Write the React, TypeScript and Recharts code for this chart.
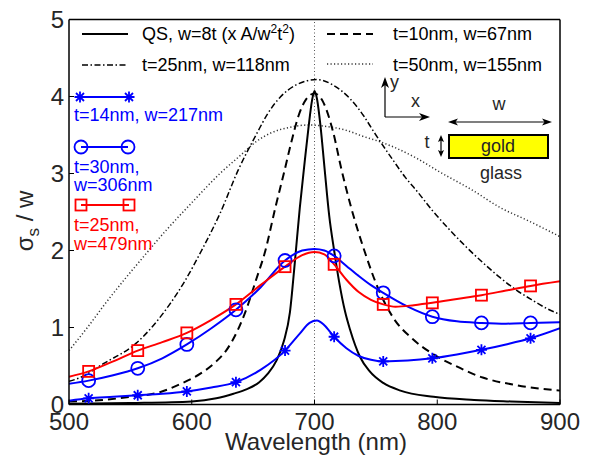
import React from 'react';
import { LineChart, Line, XAxis, YAxis, ReferenceLine } from 'recharts';

const FONT = '"Liberation Sans", Arial, Helvetica, sans-serif';
const TEXT = '#262626';
const BLUE = '#0000ff';
const RED = '#ff0000';

const xTicks = [500, 600, 700, 800, 900];
const yTicks = [0, 1, 2, 3, 4, 5];
const markerWl = [516, 556, 596, 636, 676, 716, 756, 796, 836, 876];

// QS, w=8t (x A/w^2 t^2)
const qsWl = [500, 550, 600, 620, 634, 645, 655, 662, 669, 675, 680, 684, 688, 692, 695, 698, 700, 702, 705, 708, 712, 716, 720, 725, 729, 737, 745, 756, 770, 797, 830, 860, 900];
const qsVal = [0.01, 0.02, 0.04, 0.08, 0.14, 0.2, 0.29, 0.4, 0.57, 0.82, 1.2, 1.85, 2.55, 3.15, 3.58, 3.95, 4.07, 3.97, 3.6, 3.1, 2.45, 2.0, 1.6, 1.2, 0.97, 0.62, 0.43, 0.28, 0.18, 0.1, 0.06, 0.04, 0.02];

// t=10nm, w=67nm
const t10Wl = [500, 520, 550, 574, 590, 607, 620, 628, 637, 645, 652, 660, 668, 675, 681, 687, 693, 700, 707, 715, 722, 730, 741, 752, 764, 780, 796, 815, 837, 865, 900];
const t10Val = [0.04, 0.05, 0.1, 0.16, 0.26, 0.4, 0.56, 0.7, 0.95, 1.26, 1.6, 2.0, 2.55, 3.0, 3.4, 3.75, 3.96, 4.04, 3.93, 3.55, 3.05, 2.55, 1.98, 1.5, 1.13, 0.85, 0.66, 0.5, 0.35, 0.25, 0.18];

// t=25nm, w=118nm
const t25Wl = [500, 509, 528, 555, 582, 595, 608, 623, 638, 653, 662, 672, 685, 702, 715, 729, 740, 748, 765, 774, 783, 796, 810, 824, 838, 851, 865, 878, 890, 900];
const t25Val = [0.3, 0.35, 0.53, 0.8, 1.3, 1.62, 2.0, 2.48, 3.05, 3.52, 3.78, 3.99, 4.15, 4.22, 4.15, 3.97, 3.75, 3.55, 3.15, 2.95, 2.78, 2.52, 2.27, 2.04, 1.83, 1.65, 1.48, 1.35, 1.24, 1.17];

// t=50nm, w=155nm
const t50Wl = [500, 515, 530, 545, 556, 579, 600, 623, 640, 653, 665, 680, 695, 710, 726, 740, 752, 765, 783, 802, 829, 851, 875, 900];
const t50Val = [0.7, 1.0, 1.32, 1.62, 1.83, 2.26, 2.62, 3.0, 3.24, 3.42, 3.53, 3.6, 3.63, 3.61, 3.56, 3.48, 3.42, 3.34, 3.2, 3.02, 2.78, 2.56, 2.38, 2.18];

// t=14nm, w=217nm (asterisks)
const t14Wl = [500, 516, 536, 556, 576, 596, 616, 636, 656, 676, 688, 696, 702, 708, 716, 726, 736, 746, 756, 776, 796, 816, 836, 856, 876, 900];
const t14Val = [0.05, 0.08, 0.1, 0.12, 0.14, 0.17, 0.22, 0.29, 0.45, 0.7, 0.92, 1.06, 1.09, 1.03, 0.88, 0.73, 0.63, 0.58, 0.56, 0.57, 0.6, 0.65, 0.71, 0.78, 0.86, 0.99];

// t=30nm, w=306nm (circles)
const t30Wl = [500, 516, 536, 556, 576, 596, 616, 636, 656, 676, 690, 700, 708, 716, 726, 736, 746, 756, 776, 796, 816, 836, 856, 876, 900];
const t30Val = [0.27, 0.31, 0.38, 0.47, 0.6, 0.78, 0.99, 1.23, 1.52, 1.87, 2.0, 2.02, 2.0, 1.93, 1.8, 1.67, 1.55, 1.45, 1.27, 1.14, 1.08, 1.06, 1.05, 1.06, 1.07];

// t=25nm, w=479nm (squares)
const t25wWl = [500, 516, 536, 556, 576, 596, 616, 636, 656, 676, 690, 700, 708, 716, 726, 736, 746, 756, 766, 781, 796, 816, 836, 856, 876, 900];
const t25wVal = [0.36, 0.43, 0.56, 0.7, 0.81, 0.93, 1.1, 1.3, 1.55, 1.79, 1.94, 1.98, 1.95, 1.82, 1.62, 1.46, 1.36, 1.3, 1.27, 1.29, 1.32, 1.37, 1.42, 1.48, 1.54, 1.6];

const pts = (xs: number[], ys: number[]) => xs.map((x, i) => ({ x, y: ys[i] }));

type MK = 'star' | 'circle' | 'square';

function Marker({ kind, cx, cy, color }: { kind: MK; cx: number; cy: number; color: string }) {
  if (kind === 'star') {
    const a = 5.5;
    const b = 4;
    return (
      <path
        d={`M${cx - a},${cy}H${cx + a}M${cx},${cy - a}V${cy + a}M${cx - b},${cy - b}L${cx + b},${cy + b}M${cx - b},${cy + b}L${cx + b},${cy - b}`}
        stroke={color}
        strokeWidth={1.8}
        fill="none"
      />
    );
  }
  if (kind === 'circle') return <circle cx={cx} cy={cy} r={6.5} stroke={color} strokeWidth={1.8} fill="none" />;
  return <rect x={cx - 5.5} y={cy - 5.5} width={11} height={11} stroke={color} strokeWidth={1.8} fill="none" />;
}

const makeDot = (kind: MK, color: string) => (props: any) => {
  const { cx, cy, payload, index } = props;
  if (!payload || cx == null || cy == null || !markerWl.includes(payload.x)) return <g key={`e-${kind}-${index}`} />;
  return (
    <g key={`m-${kind}-${index}`}>
      <Marker kind={kind} cx={cx} cy={cy} color={color} />
    </g>
  );
};

const axisLine = { stroke: '#000', strokeWidth: 1.5 };
const tickLine = { stroke: '#000', strokeWidth: 1 };
const tickStyle = { fontSize: 24, fill: TEXT, fontFamily: FONT };

function Overlay() {
  const t = { fontFamily: FONT, fontSize: 18 };
  return (
    <svg width={592} height={458} style={{ position: 'absolute', left: 0, top: 0, pointerEvents: 'none' }}>
      {/* axis labels */}
      <text x={316} y={450} textAnchor="middle" fontFamily={FONT} fontSize={24} fill={TEXT}>
        Wavelength (nm)
      </text>
      <text transform="translate(33,221) rotate(-90)" textAnchor="middle" fontFamily={FONT} fontSize={24} fill={TEXT}>
        σ<tspan fontSize={17} dy={6}>s</tspan>
        <tspan dy={-6}> / w</tspan>
      </text>

      {/* top legend */}
      <line x1={82} y1={34} x2={128} y2={34} stroke="#000" strokeWidth={2} />
      <text x={142} y={40} {...t} fill="#000">
        QS, w=8t (x A/w<tspan dy={-7} fontSize={12}>2</tspan>
        <tspan dy={7}>t</tspan>
        <tspan dy={-7} fontSize={12}>2</tspan>
        <tspan dy={7}>)</tspan>
      </text>
      <line x1={82} y1={65} x2={128} y2={65} stroke="#000" strokeWidth={1.5} strokeDasharray="6 2.5 1.5 2.5" />
      <text x={142} y={71} {...t} fill="#000">t=25nm, w=118nm</text>
      <line x1={327} y1={34} x2={373} y2={34} stroke="#000" strokeWidth={2} strokeDasharray="8 5" />
      <text x={393} y={40} {...t} fill="#000">t=10nm, w=67nm</text>
      <line x1={327} y1={64} x2={373} y2={64} stroke="#333" strokeWidth={1.5} strokeDasharray="1.2 2.3" />
      <text x={393} y={71} {...t} fill="#000">t=50nm, w=155nm</text>

      {/* left legend */}
      <line x1={80} y1={97} x2={129} y2={97} stroke={BLUE} strokeWidth={2} />
      <Marker kind="star" cx={80} cy={97} color={BLUE} />
      <Marker kind="star" cx={129} cy={97} color={BLUE} />
      <text x={74} y={121} {...t} fill={BLUE}>t=14nm, w=217nm</text>

      <line x1={81} y1={147} x2={128} y2={147} stroke={BLUE} strokeWidth={2} />
      <Marker kind="circle" cx={81} cy={147} color={BLUE} />
      <Marker kind="circle" cx={128} cy={147} color={BLUE} />
      <text x={74} y={173} {...t} fill={BLUE}>t=30nm,</text>
      <text x={74} y={191} {...t} fill={BLUE}>w=306nm</text>

      <line x1={81} y1={205} x2={129} y2={205} stroke={RED} strokeWidth={2} />
      <Marker kind="square" cx={81} cy={205} color={RED} />
      <Marker kind="square" cx={129} cy={205} color={RED} />
      <text x={74} y={231} {...t} fill={RED}>t=25nm,</text>
      <text x={74} y={250} {...t} fill={RED}>w=479nm</text>

      {/* inset diagram */}
      <line x1={385} y1={117} x2={385} y2={82} stroke="#000" strokeWidth={1.2} />
      <path d="M385,77 L381,88 L385,85 L389,88 Z" fill="#000" />
      <line x1={385} y1={117} x2={425} y2={117} stroke="#000" strokeWidth={1.2} />
      <path d="M430,117 L419,113 L422,117 L419,121 Z" fill="#000" />
      <text x={390} y={88} {...t} fill={TEXT}>y</text>
      <text x={411} y={107} {...t} fill={TEXT}>x</text>

      <line x1={452} y1={122} x2={548} y2={122} stroke="#000" strokeWidth={1.2} />
      <path d="M448,122 L458,118.5 L455.5,122 L458,125.5 Z" fill="#000" />
      <path d="M552,122 L542,118.5 L544.5,122 L542,125.5 Z" fill="#000" />
      <text x={499} y={110} textAnchor="middle" {...t} fill={TEXT}>w</text>

      <line x1={441} y1={139} x2={441} y2={153} stroke="#000" strokeWidth={1.2} />
      <path d="M441,135 L438,142 L441,140.5 L444,142 Z" fill="#000" />
      <path d="M441,157 L438,150 L441,151.5 L444,150 Z" fill="#000" />
      <text x={427} y={148} textAnchor="middle" {...t} fill={TEXT}>t</text>

      <rect x={449} y={135} width={99} height={23} fill="#ffff00" stroke="#000" strokeWidth={2} />
      <text x={498} y={152} textAnchor="middle" {...t} fill={TEXT}>gold</text>
      <text x={501} y={179} textAnchor="middle" {...t} fill={TEXT}>glass</text>
    </svg>
  );
}

export default function App() {
  return (
    <div style={{ position: 'absolute', left: 0, top: 0, width: 592, height: 458, background: '#fff' }}>
      <LineChart width={592} height={458} margin={{ top: 18.5, right: 31, bottom: 23.5, left: 29 }}>
        <XAxis
          xAxisId="b"
          type="number"
          dataKey="x"
          domain={[500, 900]}
          ticks={xTicks}
          interval={0}
          orientation="bottom"
          height={30}
          tickSize={-5}
          tickMargin={13.5}
          axisLine={axisLine}
          tickLine={tickLine}
          tick={tickStyle}
          allowDataOverflow
        />
        <XAxis
          xAxisId="t"
          type="number"
          dataKey="x"
          domain={[500, 900]}
          ticks={xTicks}
          interval={0}
          orientation="top"
          height={1}
          tickSize={-5}
          axisLine={axisLine}
          tickLine={tickLine}
          tick={false}
          allowDataOverflow
        />
        <YAxis
          yAxisId="l"
          type="number"
          domain={[0, 5]}
          ticks={yTicks}
          interval={0}
          orientation="left"
          width={40}
          tickSize={-5}
          tickMargin={10}
          axisLine={axisLine}
          tickLine={tickLine}
          tick={tickStyle}
          allowDataOverflow
        />
        <YAxis
          yAxisId="r"
          type="number"
          domain={[0, 5]}
          ticks={yTicks}
          interval={0}
          orientation="right"
          width={1}
          tickSize={-5}
          axisLine={axisLine}
          tickLine={tickLine}
          tick={false}
          allowDataOverflow
        />
        <ReferenceLine xAxisId="b" yAxisId="l" x={700} stroke="#555" strokeWidth={1} strokeDasharray="1 2.5" />
        <Line key="t50" xAxisId="b" yAxisId="l" data={pts(t50Wl, t50Val)} dataKey="y" type="monotone" stroke="#333" strokeWidth={1.5} strokeDasharray="1.2 2.3" dot={false} activeDot={false} isAnimationActive={false} />
        <Line key="t25" xAxisId="b" yAxisId="l" data={pts(t25Wl, t25Val)} dataKey="y" type="monotone" stroke="#000" strokeWidth={1.5} strokeDasharray="6 2.5 1.5 2.5" dot={false} activeDot={false} isAnimationActive={false} />
        <Line key="t10" xAxisId="b" yAxisId="l" data={pts(t10Wl, t10Val)} dataKey="y" type="monotone" stroke="#000" strokeWidth={2} strokeDasharray="8 5" dot={false} activeDot={false} isAnimationActive={false} />
        <Line key="qs" xAxisId="b" yAxisId="l" data={pts(qsWl, qsVal)} dataKey="y" type="monotone" stroke="#000" strokeWidth={2} dot={false} activeDot={false} isAnimationActive={false} />
        <Line key="t14" xAxisId="b" yAxisId="l" data={pts(t14Wl, t14Val)} dataKey="y" type="monotone" stroke={BLUE} strokeWidth={2} dot={makeDot('star', BLUE)} activeDot={false} isAnimationActive={false} />
        <Line key="t30" xAxisId="b" yAxisId="l" data={pts(t30Wl, t30Val)} dataKey="y" type="monotone" stroke={BLUE} strokeWidth={2} dot={makeDot('circle', BLUE)} activeDot={false} isAnimationActive={false} />
        <Line key="t25w" xAxisId="b" yAxisId="l" data={pts(t25wWl, t25wVal)} dataKey="y" type="monotone" stroke={RED} strokeWidth={2} dot={makeDot('square', RED)} activeDot={false} isAnimationActive={false} />
      </LineChart>
      <Overlay />
    </div>
  );
}
